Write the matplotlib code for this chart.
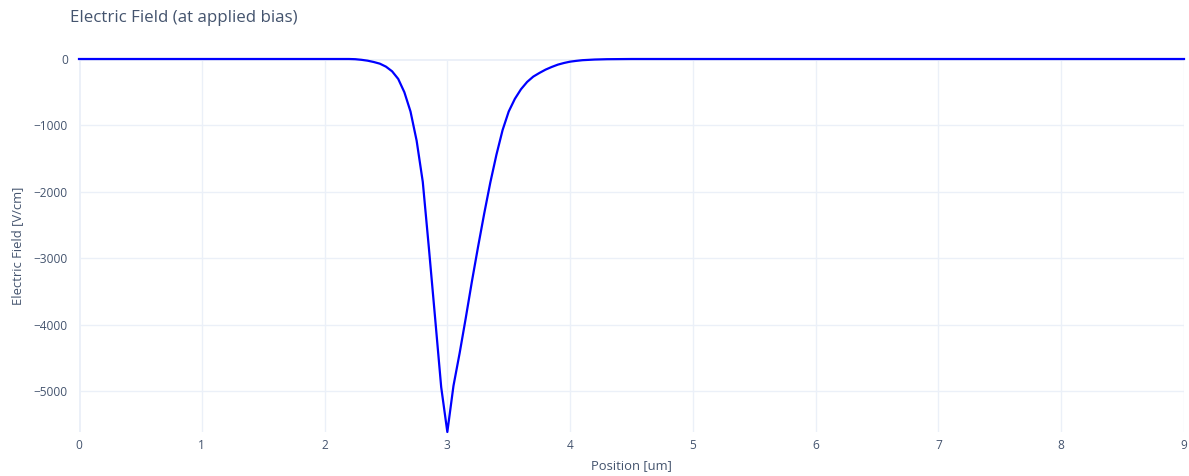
import matplotlib
matplotlib.use("Agg")
import matplotlib.pyplot as plt
from matplotlib.ticker import FuncFormatter

# Data (position in um, electric field in V/cm)
position = [0.0, 2.20, 2.25, 2.30, 2.35, 2.40, 2.45, 2.50, 2.55, 2.60, 2.65, 2.70,
            2.75, 2.80, 2.85, 2.90, 2.95, 3.00, 3.05, 3.10, 3.15, 3.20, 3.25, 3.30,
            3.35, 3.40, 3.45, 3.50, 3.55, 3.60, 3.65, 3.70, 3.75, 3.80, 3.85, 3.90,
            3.95, 4.00, 4.05, 4.10, 4.20, 4.30, 4.50, 9.0]
efield = [0, 0, -3, -12, -25, -45, -70, -115, -185, -300, -500, -790,
          -1230, -1850, -2850, -3890, -4940, -5615, -4920, -4430, -3900, -3350, -2830, -2330,
          -1860, -1440, -1070, -790, -600, -455, -345, -265, -210, -160, -120, -85,
          -60, -40, -28, -18, -8, -3, 0, 0]
x_ticks = [0, 1, 2, 3, 4, 5, 6, 7, 8, 9]
y_ticks = [0, -1000, -2000, -3000, -4000, -5000]

FONT = "Open Sans"
TXT = "#44546e"
GRID = "#EBF0F8"

fig = plt.figure(figsize=(11.89, 4.76), dpi=100)
ax = fig.add_axes([79 / 1189, 1 - 432 / 476, (1184 - 79) / 1189, (432 - 59) / 476])

ax.plot(position, efield, color="#0000FF", lw=1.6, zorder=3, solid_joinstyle="round",
        clip_on=False)

ax.set_xlim(0, 9)
ax.set_ylim(min(efield), 0)
ax.set_xticks(x_ticks)
ax.set_yticks(y_ticks)
ax.yaxis.set_major_formatter(FuncFormatter(lambda v, p: f"{int(v)}".replace("-", "\u2212")))

ax.grid(True, color=GRID, lw=1, zorder=0)
for s in ax.spines.values():
    s.set_visible(False)
ax.axvline(0, color=GRID, lw=2, zorder=1)
ax.axhline(0, color=GRID, lw=2, zorder=1)

ax.tick_params(axis="both", length=0, colors=TXT, labelsize=8.6)
ax.tick_params(axis="x", pad=5)
ax.tick_params(axis="y", pad=8)
for lab in ax.get_xticklabels() + ax.get_yticklabels():
    lab.set_fontfamily(FONT)

ax.set_xlabel("Position [um]", fontfamily=FONT, fontsize=9.4, color=TXT, labelpad=5)
ax.set_ylabel("Electric Field [V/cm]", fontfamily=FONT, fontsize=9.4, color=TXT, labelpad=7)

fig.text(70 / 1189, 1 - 18 / 476, "Electric Field (at applied bias)", fontfamily=FONT,
         fontsize=12.2, color=TXT, ha="left", va="center")

fig.savefig("out.png", dpi=100, facecolor="white")
